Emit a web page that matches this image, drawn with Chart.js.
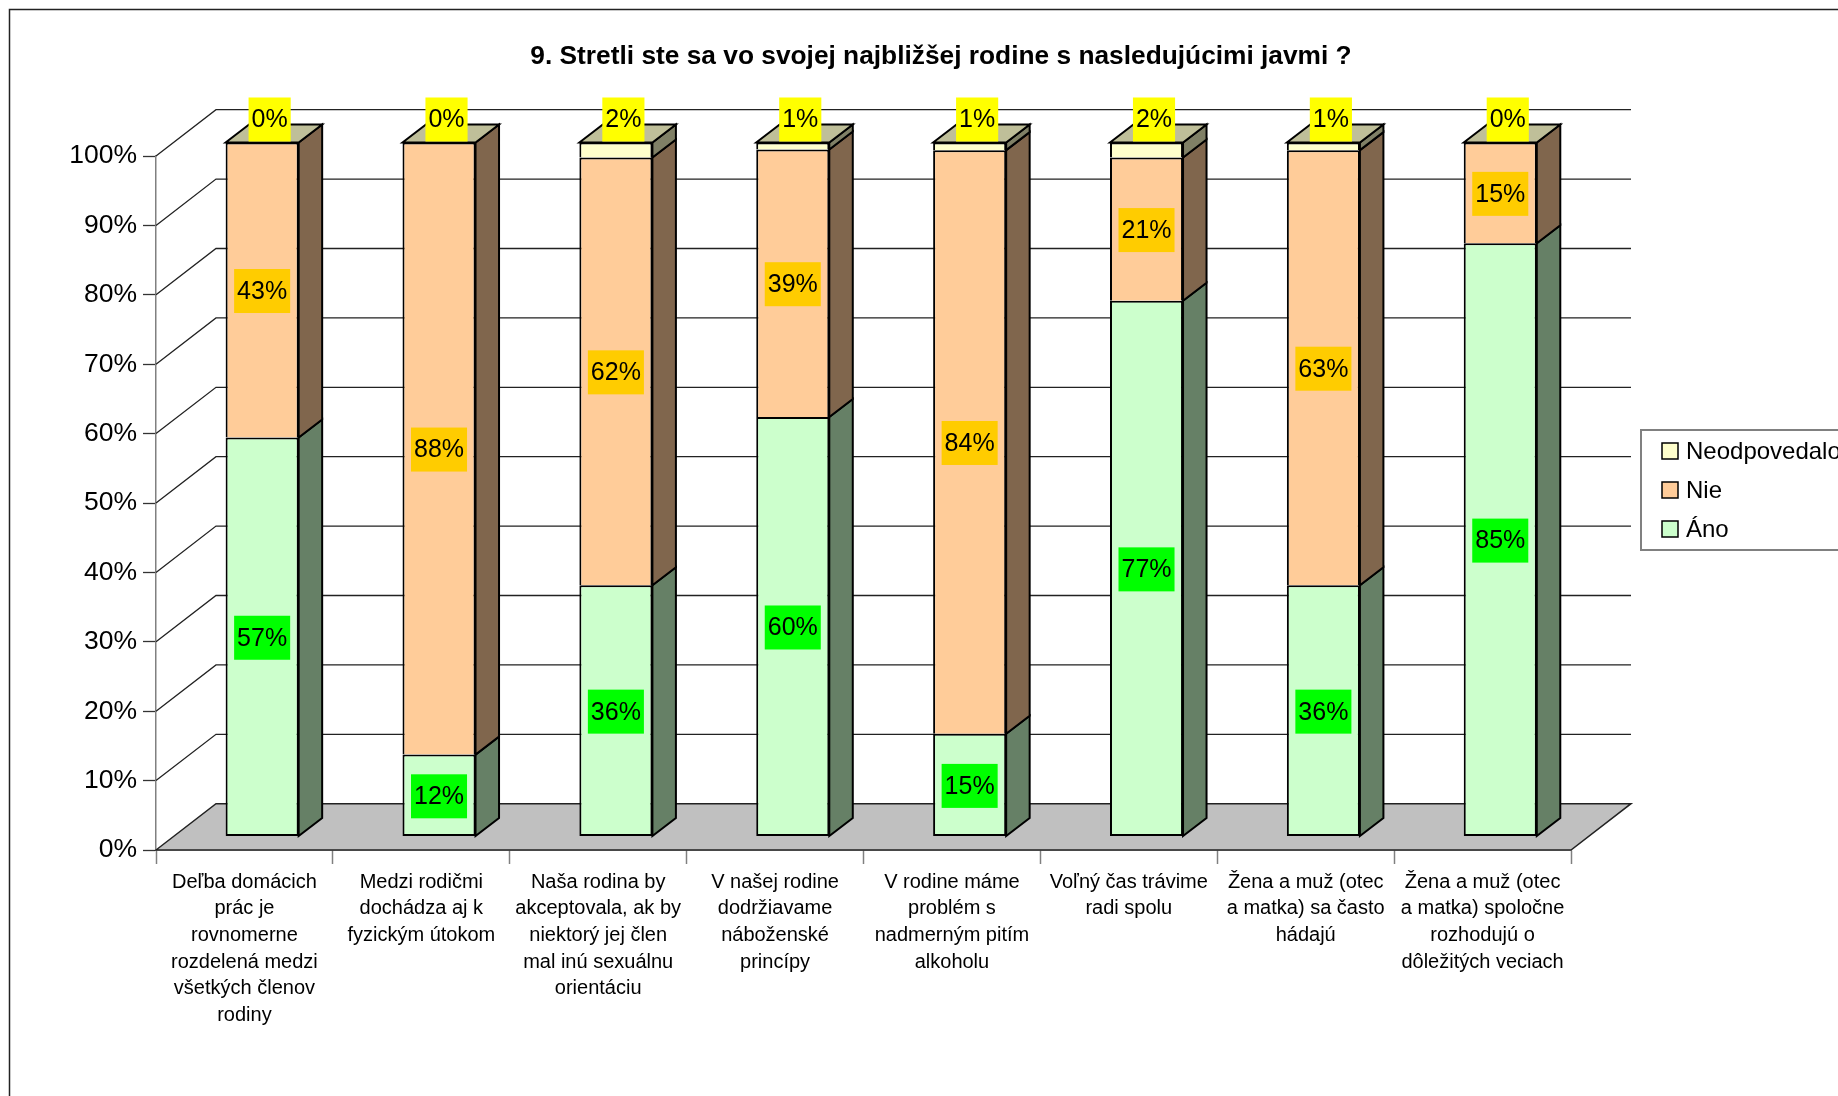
<!DOCTYPE html>
<html lang="sk"><head>
  <meta charset="UTF-8">
  <title>9. Stretli ste sa vo svojej najbližšej rodine s nasledujúcimi javmi ?</title>
  <script src="https://cdn.jsdelivr.net/npm/chart.js"></script>
  <style>
    html, body { margin: 0; padding: 0; background: #fff; overflow: hidden; }
    canvas { display: block; }
  </style>
</head><body>
<canvas id="chart" width="1838" height="1096"></canvas>
<script>
  const chartTitle = '9. Stretli ste sa vo svojej najbližšej rodine s nasledujúcimi javmi ?';
  const categories = [
    ['Deľba domácich', 'prác je', 'rovnomerne', 'rozdelená medzi', 'všetkých členov', 'rodiny'],
    ['Medzi rodičmi', 'dochádza aj k', 'fyzickým útokom'],
    ['Naša rodina by', 'akceptovala, ak by', 'niektorý jej člen', 'mal inú sexuálnu', 'orientáciu'],
    ['V našej rodine', 'dodržiavame', 'náboženské', 'princípy'],
    ['V rodine máme', 'problém s', 'nadmerným pitím', 'alkoholu'],
    ['Voľný čas trávime', 'radi spolu'],
    ['Žena a muž (otec', 'a matka) sa často', 'hádajú'],
    ['Žena a muž (otec', 'a matka) spoločne', 'rozhodujú o', 'dôležitých veciach']
  ];
  const anoValues = [57.49, 11.8, 36.2, 60.45, 14.8, 77.2, 36.2, 85.49];
  const nieValues = [42.51, 88.2, 61.65, 38.55, 84.1, 20.65, 62.7, 14.51];
  const neoValues = [0, 0, 2.15, 1, 1.1, 2.15, 1.1, 0];

  const FONT = '"Liberation Sans", Arial, sans-serif';
  // 3D look: wall depth and how far the bars sit inside it
  const WALL = { dx: 60, dy: -46.3 };
  const BAR_SHIFT = { dx: 17.7, dy: -13.5 };
  const BAR_DEPTH = { dx: 23.5, dy: -18 };

  const sideColors = ['#668066', '#80664D', '#808066'];
  const labelColors = ['#00FF00', '#FFCC00', '#FFFF00'];
  const topColor = '#BFBF99';

  function poly(ctx, pts, fill, stroke, lw) {
    ctx.beginPath();
    pts.forEach((p, i) => i ? ctx.lineTo(p[0], p[1]) : ctx.moveTo(p[0], p[1]));
    ctx.closePath();
    if (fill) { ctx.fillStyle = fill; ctx.fill(); }
    if (stroke) { ctx.strokeStyle = stroke; ctx.lineWidth = lw; ctx.stroke(); }
  }

  const chart3d = {
    id: 'chart3d',
    beforeDraw(chart) {
      const ctx = chart.ctx;
      // outer frame, runs off the right and bottom of the picture
      ctx.save();
      ctx.strokeStyle = '#222';
      ctx.lineWidth = 1.5;
      ctx.beginPath();
      ctx.moveTo(9.5, 1096);
      ctx.lineTo(9.5, 9.5);
      ctx.lineTo(1838, 9.5);
      ctx.stroke();
      // title
      ctx.fillStyle = '#000';
      ctx.font = 'bold 26.3px ' + FONT;
      ctx.textAlign = 'center';
      ctx.textBaseline = 'middle';
      ctx.fillText(chartTitle, 941, 57);
      ctx.restore();
    },
    beforeDatasetsDraw(chart) {
      const ctx = chart.ctx;
      const { left, right } = chart.chartArea;
      const y = chart.scales.y;
      const y0 = y.getPixelForValue(0);
      // floor
      poly(ctx, [[left, y0], [left + WALL.dx, y0 + WALL.dy], [right + WALL.dx, y0 + WALL.dy], [right, y0]], '#C0C0C0', '#222', 1.5);
      // wall grid lines
      ctx.save();
      ctx.strokeStyle = '#222';
      ctx.lineWidth = 1.3;
      y.ticks.forEach(t => {
        if (t.value === 0) return;
        const py = y.getPixelForValue(t.value);
        ctx.beginPath();
        ctx.moveTo(left, py);
        ctx.lineTo(left + WALL.dx, py + WALL.dy);
        ctx.lineTo(right + WALL.dx, py + WALL.dy);
        ctx.stroke();
      });
      ctx.restore();
      // bars stand inside the wall depth
      ctx.save();
      ctx.translate(BAR_SHIFT.dx, BAR_SHIFT.dy);
    },
    afterDatasetsDraw(chart) {
      const ctx = chart.ctx;
      const metas = chart.data.datasets.map((d, i) => chart.getDatasetMeta(i));
      const d = BAR_DEPTH;
      // side faces
      metas.forEach((meta, i) => {
        meta.data.forEach(bar => {
          const r = bar.x + bar.width / 2;
          if (Math.abs(bar.base - bar.y) < 0.5) return;
          poly(ctx, [[r, bar.y], [r + d.dx, bar.y + d.dy], [r + d.dx, bar.base + d.dy], [r, bar.base]], sideColors[i], '#000', 2);
        });
      });
      // top faces
      metas[metas.length - 1].data.forEach(bar => {
        const l = bar.x - bar.width / 2;
        const r = bar.x + bar.width / 2;
        poly(ctx, [[l, bar.y], [l + d.dx, bar.y + d.dy], [r + d.dx, bar.y + d.dy], [r, bar.y]], topColor, '#000', 2);
      });
      // value labels
      ctx.font = '25px ' + FONT;
      ctx.textAlign = 'center';
      ctx.textBaseline = 'middle';
      metas.forEach((meta, i) => {
        const vals = chart.data.datasets[i].data;
        meta.data.forEach((bar, j) => {
          const txt = Math.round(vals[j]) + '%';
          const isTop = i === metas.length - 1;
          const cx = isTop ? bar.x + 7.5 : bar.x;
          const cy = isTop ? chart.scales.y.getPixelForValue(100) - 23 : (bar.y + bar.base) / 2 + 1;
          const w = ctx.measureText(txt).width + 6;
          ctx.fillStyle = labelColors[i];
          ctx.fillRect(cx - w / 2, cy - 22, w, 44);
          ctx.fillStyle = '#000';
          ctx.fillText(txt, cx, cy + 1);
        });
      });
      ctx.restore();

      // legend, clipped by the right edge like in the original
      ctx.save();
      ctx.fillStyle = '#fff';
      ctx.strokeStyle = '#808080';
      ctx.lineWidth = 2;
      ctx.fillRect(1641, 430, 240, 120);
      ctx.strokeRect(1641, 430, 240, 120);
      ctx.font = '24px ' + FONT;
      ctx.textAlign = 'left';
      ctx.textBaseline = 'middle';
      const rowY = [451, 490, 529];
      chart.data.datasets.slice().reverse().forEach((ds, i) => {
        poly(ctx, [[1662, rowY[i] - 8], [1678, rowY[i] - 8], [1678, rowY[i] + 8], [1662, rowY[i] + 8]], ds.backgroundColor, '#000', 1.5);
        ctx.fillStyle = '#000';
        ctx.fillText(ds.label, 1686, rowY[i] + 1.5);
      });
      ctx.restore();
    }
  };

  const barCommon = { borderColor: '#000', borderSkipped: false, categoryPercentage: 0.413, barPercentage: 1, clip: false };
  // upper segments share the line of the segment below, so no bottom border
  const upperBorder = { top: 2, left: 2, right: 2, bottom: 0 };

  new Chart(document.getElementById('chart'), {
    type: 'bar',
    plugins: [chart3d],
    data: {
      labels: categories,
      datasets: [
        { ...barCommon, label: 'Áno', data: anoValues, backgroundColor: '#CCFFCC', borderWidth: 2 },
        { ...barCommon, label: 'Nie', data: nieValues, backgroundColor: '#FFCC99', borderWidth: upperBorder },
        { ...barCommon, label: 'Neodpovedalo', data: neoValues, backgroundColor: '#FFFFCC', borderWidth: upperBorder }
      ]
    },
    options: {
      responsive: false,
      animation: false,
      layout: { padding: { top: 156, right: 267, left: 0, bottom: 0 } },
      plugins: { legend: { display: false }, title: { display: false }, tooltip: { enabled: false } },
      scales: {
        x: {
          stacked: true,
          afterFit(scale) { scale.height = 246; },
          border: { color: '#808080', width: 1.5 },
          grid: { drawOnChartArea: false, tickLength: 14, tickColor: '#808080', tickWidth: 1.5 },
          ticks: {
            autoSkip: false, maxRotation: 0, minRotation: 0, padding: 5, color: '#000',
            font: { family: FONT, size: 20, lineHeight: 1.33 }
          }
        },
        y: {
          stacked: true,
          min: 0,
          max: 100,
          afterFit(scale) { scale.width = 156; },
          border: { color: '#808080', width: 1.5 },
          grid: { drawOnChartArea: false, tickLength: 13, tickColor: '#333', tickWidth: 1.3 },
          ticks: {
            stepSize: 10, padding: 6, color: '#000',
            font: { family: FONT, size: 26.5 },
            callback: v => v + '%'
          }
        }
      }
    }
  });
</script>
</body></html>
